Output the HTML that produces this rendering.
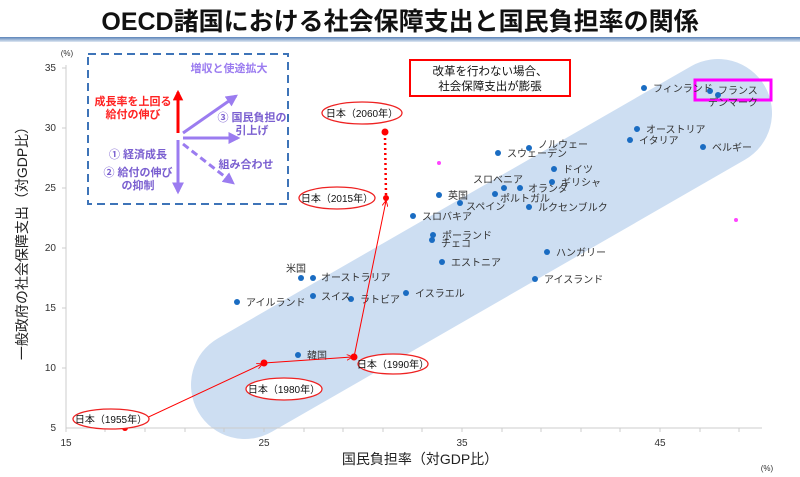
<!DOCTYPE html>
<html><head><meta charset="utf-8"><style>
body{margin:0;width:800px;height:477px;background:#fff;overflow:hidden}
svg{display:block}
text{font-family:"Liberation Sans","Noto Sans CJK JP",sans-serif}
</style></head><body>
<svg width="800" height="477" viewBox="0 0 800 477">
<defs>
<linearGradient id="tl" x1="0" y1="0" x2="0" y2="1"><stop offset="0" stop-color="#5b83b8"/><stop offset="1" stop-color="#dfe8f3"/></linearGradient>
<marker id="ar" viewBox="0 0 10 10" refX="9" refY="5" markerWidth="6" markerHeight="6" orient="auto"><path d="M0,0 L10,5 L0,10" fill="none" stroke="#f00" stroke-width="1.5"/></marker>
<marker id="pa" viewBox="0 0 10 10" refX="8" refY="5" markerWidth="4" markerHeight="4" orient="auto"><path d="M0,0 L10,5 L0,10 z" fill="#9b7cf0"/></marker>
<marker id="ra" viewBox="0 0 10 10" refX="8" refY="5" markerWidth="3.5" markerHeight="3.5" orient="auto"><path d="M0,0 L10,5 L0,10 z" fill="#f00"/></marker>
</defs>
<text x="400" y="30" text-anchor="middle" font-size="25" font-weight="bold" fill="#111">OECD諸国における社会保障支出と国民負担率の関係</text>
<rect x="0" y="37" width="800" height="5" fill="url(#tl)"/>
<line x1="245" y1="385" x2="718" y2="113" stroke="#cddef2" stroke-width="108" stroke-linecap="round"/>
<line x1="66" y1="65" x2="66" y2="428" stroke="#ccc"/>
<line x1="66" y1="428" x2="762" y2="428" stroke="#ccc"/>
<g stroke="#ccc">
<line x1="66" y1="428" x2="66" y2="432"/><line x1="105" y1="428" x2="105" y2="432"/><line x1="145" y1="428" x2="145" y2="432"/><line x1="185" y1="428" x2="185" y2="432"/><line x1="224" y1="428" x2="224" y2="432"/><line x1="264" y1="428" x2="264" y2="432"/><line x1="304" y1="428" x2="304" y2="432"/><line x1="343" y1="428" x2="343" y2="432"/><line x1="383" y1="428" x2="383" y2="432"/><line x1="422" y1="428" x2="422" y2="432"/><line x1="462" y1="428" x2="462" y2="432"/><line x1="502" y1="428" x2="502" y2="432"/><line x1="541" y1="428" x2="541" y2="432"/><line x1="581" y1="428" x2="581" y2="432"/><line x1="620" y1="428" x2="620" y2="432"/><line x1="660" y1="428" x2="660" y2="432"/><line x1="700" y1="428" x2="700" y2="432"/><line x1="739" y1="428" x2="739" y2="432"/>
<line x1="62" y1="68" x2="66" y2="68"/><line x1="62" y1="128" x2="66" y2="128"/><line x1="62" y1="188" x2="66" y2="188"/><line x1="62" y1="248" x2="66" y2="248"/><line x1="62" y1="308" x2="66" y2="308"/><line x1="62" y1="368" x2="66" y2="368"/>
</g>
<g font-size="10" fill="#333" text-anchor="end">
<text x="56" y="71">35</text><text x="56" y="131">30</text><text x="56" y="191">25</text><text x="56" y="251">20</text><text x="56" y="311">15</text><text x="56" y="371">10</text><text x="56" y="431">5</text>
</g>
<g font-size="10" fill="#333" text-anchor="middle">
<text x="66" y="446">15</text><text x="264" y="446">25</text><text x="462" y="446">35</text><text x="660" y="446">45</text>
<text x="67" y="56" font-size="8">(%)</text><text x="767" y="471" font-size="8">(%)</text>
</g>
<text x="420" y="464" text-anchor="middle" font-size="14" fill="#222">国民負担率（対GDP比）</text>
<text transform="translate(27,240) rotate(-90)" text-anchor="middle" font-size="14" fill="#222">一般政府の社会保障支出（対GDP比）</text>
<rect x="88" y="54" width="200" height="150" fill="none" stroke="#3e74b8" stroke-width="2" stroke-dasharray="8,5"/>
<line x1="178" y1="133" x2="178" y2="92" stroke="#f00" stroke-width="3" marker-end="url(#ra)"/>
<line x1="183" y1="133" x2="236" y2="96" stroke="#9b7cf0" stroke-width="3" marker-end="url(#pa)"/>
<line x1="183" y1="138" x2="238" y2="138" stroke="#9b7cf0" stroke-width="3" marker-end="url(#pa)"/>
<line x1="183" y1="144" x2="233" y2="183" stroke="#9b7cf0" stroke-width="3" stroke-dasharray="7,4" marker-end="url(#pa)"/>
<line x1="178" y1="140" x2="178" y2="192" stroke="#9b7cf0" stroke-width="3" marker-end="url(#pa)"/>
<g font-size="11" font-weight="bold">
<text x="133" y="105" text-anchor="middle" fill="#f22">成長率を上回る</text>
<text x="133" y="118" text-anchor="middle" fill="#f22">給付の伸び</text>
<text x="229" y="72" text-anchor="middle" fill="#9b7cf0">増収と使途拡大</text>
<text x="252" y="121" text-anchor="middle" fill="#7a5fd0">③ 国民負担の</text>
<text x="252" y="134" text-anchor="middle" fill="#7a5fd0">引上げ</text>
<text x="138" y="158" text-anchor="middle" fill="#7a5fd0">① 経済成長</text>
<text x="138" y="176" text-anchor="middle" fill="#7a5fd0">② 給付の伸び</text>
<text x="138" y="189" text-anchor="middle" fill="#7a5fd0">の抑制</text>
<text x="246" y="168" text-anchor="middle" fill="#7a5fd0">組み合わせ</text>
</g>
<rect x="410" y="60" width="160" height="36" fill="#fff" stroke="#f00" stroke-width="2"/>
<text x="490" y="75" text-anchor="middle" font-size="11.5" fill="#111">改革を行わない場合、</text>
<text x="490" y="90" text-anchor="middle" font-size="11.5" fill="#111">社会保障支出が膨張</text>
<rect x="695" y="80" width="76" height="20" fill="none" stroke="#f0f" stroke-width="3"/>
<g fill="#1a6cc2">
<circle cx="644" cy="88" r="3"/><circle cx="710" cy="91" r="3"/><circle cx="718" cy="95" r="3"/><circle cx="637" cy="129" r="3"/><circle cx="630" cy="140" r="3"/><circle cx="703" cy="147" r="3"/><circle cx="529" cy="148" r="3"/><circle cx="498" cy="153" r="3"/><circle cx="554" cy="169" r="3"/><circle cx="552" cy="182" r="3"/><circle cx="520" cy="188" r="3"/><circle cx="504" cy="188" r="3"/><circle cx="495" cy="194" r="3"/><circle cx="439" cy="195" r="3"/><circle cx="460" cy="203" r="3"/><circle cx="529" cy="207" r="3"/><circle cx="413" cy="216" r="3"/><circle cx="433" cy="235" r="3"/><circle cx="432" cy="240" r="3"/><circle cx="547" cy="252" r="3"/><circle cx="442" cy="262" r="3"/><circle cx="535" cy="279" r="3"/><circle cx="406" cy="293" r="3"/><circle cx="301" cy="278" r="3"/><circle cx="313" cy="278" r="3"/><circle cx="237" cy="302" r="3"/><circle cx="313" cy="296" r="3"/><circle cx="351" cy="299" r="3"/><circle cx="298" cy="355" r="3"/>
</g>
<circle cx="439" cy="163" r="2" fill="#f4f"/><circle cx="736" cy="220" r="2" fill="#f4f"/>
<g font-size="10" fill="#333">
<text x="653" y="92">フィンランド</text><text x="718" y="94">フランス</text><text x="708" y="106">デンマーク</text><text x="646" y="133">オーストリア</text><text x="639" y="144">イタリア</text><text x="712" y="151">ベルギー</text><text x="538" y="148">ノルウェー</text><text x="507" y="157">スウェーデン</text><text x="563" y="173">ドイツ</text><text x="561" y="186">ギリシャ</text><text x="528" y="192">オランダ</text><text x="473" y="183">スロベニア</text><text x="500" y="202">ポルトガル</text><text x="448" y="199">英国</text><text x="466" y="210">スペイン</text><text x="538" y="211">ルクセンブルク</text><text x="422" y="220">スロバキア</text><text x="442" y="239">ポーランド</text><text x="441" y="247">チェコ</text><text x="556" y="256">ハンガリー</text><text x="451" y="266">エストニア</text><text x="544" y="283">アイスランド</text><text x="415" y="297">イスラエル</text><text x="286" y="272">米国</text><text x="321" y="281">オーストラリア</text><text x="246" y="306">アイルランド</text><text x="321" y="300">スイス</text><text x="360" y="303">ラトビア</text><text x="307" y="359">韓国</text>
</g>
<g stroke="#f00" stroke-width="1" fill="none">
<line x1="125" y1="428" x2="262" y2="364" marker-end="url(#ar)"/>
<line x1="264" y1="363" x2="352" y2="357" marker-end="url(#ar)"/>
<line x1="354" y1="357" x2="386" y2="201" marker-end="url(#ar)"/>
<line x1="386" y1="195" x2="385" y2="137" stroke-width="2.5" stroke-dasharray="2,3"/>
</g>
<g fill="#f00"><circle cx="125" cy="428" r="3"/><circle cx="264" cy="363" r="3.5"/><circle cx="354" cy="357" r="3.5"/><circle cx="386" cy="198" r="3"/><circle cx="385" cy="132" r="3.5"/></g>
<g fill="#fff" stroke="#e22" stroke-width="1.3">
<ellipse cx="362" cy="113" rx="40" ry="11"/><ellipse cx="337" cy="198" rx="38" ry="11"/><ellipse cx="393" cy="364" rx="35" ry="10"/><ellipse cx="284" cy="389" rx="38" ry="11"/><ellipse cx="111" cy="419" rx="38" ry="10"/>
</g>
<g font-size="10" fill="#111" text-anchor="middle">
<text x="362" y="117">日本（2060年）</text><text x="337" y="202">日本（2015年）</text><text x="393" y="368">日本（1990年）</text><text x="284" y="393">日本（1980年）</text><text x="111" y="423">日本（1955年）</text>
</g>
</svg>
</body></html>
